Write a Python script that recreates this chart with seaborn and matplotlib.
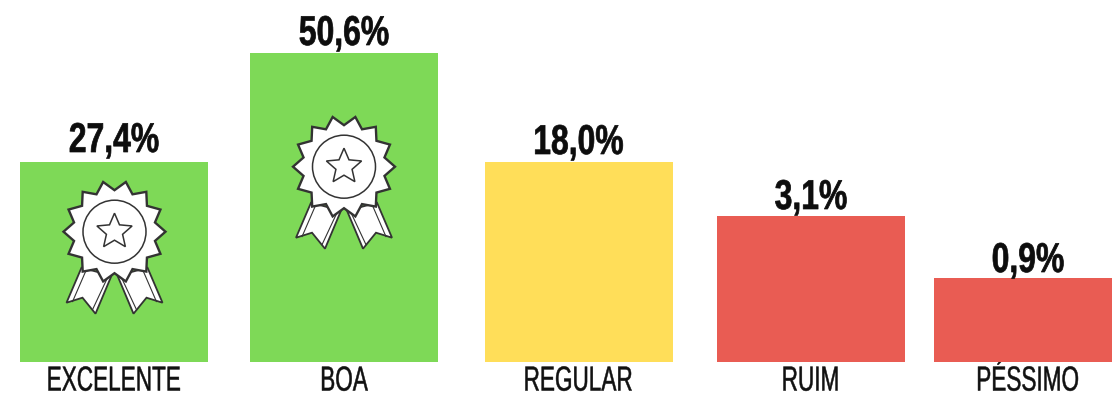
import numpy as np
import pandas as pd
import matplotlib
matplotlib.use("Agg")
import matplotlib.pyplot as plt
import matplotlib.patheffects as pe
from matplotlib.patches import Circle, Polygon
from matplotlib.transforms import Affine2D
import seaborn as sns

# Survey results
categories = ["EXCELENTE", "BOA", "REGULAR", "RUIM", "PÉSSIMO"]
shares = [27.4, 50.6, 18.0, 3.1, 0.9]
value_labels = ["27,4%", "50,6%", "18,0%", "3,1%", "0,9%"]

# Layout in canvas pixels
WIDTH, HEIGHT = 1112, 400
BASELINE = 361.5
bar_centers = [114, 344, 578.5, 811, 1028]
BAR_WIDTH = 188
colors = ["#7ED957", "#7ED957", "#FFDE59", "#E95C53", "#E95C53"]
label_gaps = [9.5, 7.5, 8, 6.5, 6]

# The axis is deliberately non-linear: small shares get a stretched range,
# so the low bars stay readable. Knots map a share to its height in pixels.
scale_shares = [0, 0.9, 3.1, 18.0, 27.4, 50.6, 60.0]
scale_heights = [0, 83.5, 146, 199.5, 200, 309, 361.5]


def to_height(v):
    return np.interp(v, scale_shares, scale_heights)


def to_share(h):
    return np.interp(h, scale_heights, scale_shares)


class CondensedText(pe.AbstractPathEffect):
    """Squeeze centred text horizontally to imitate a condensed typeface."""

    def __init__(self, factor, stroke=0.0):
        super().__init__()
        self.factor = factor
        self.stroke = stroke

    def draw_path(self, renderer, gc, tpath, affine, rgbFace=None):
        width = tpath.get_extents().x1
        squeeze = Affine2D().scale(self.factor, 1).translate(width * (1 - self.factor) / 2, 0)
        gc_text = renderer.new_gc()
        gc_text.copy_properties(gc)
        if self.stroke:
            gc_text.set_foreground(rgbFace[:3])
            gc_text.set_linewidth(self.stroke)
        renderer.draw_path(gc_text, tpath, squeeze + affine, rgbFace)
        gc_text.restore()


def draw_medal(ax, cx, cy):
    """Rosette award icon, sized in pixels around (cx, cy)."""
    place = Affine2D().scale(1, -1).translate(cx, HEIGHT - cy)
    ink = "#333333"
    style = dict(transform=place, edgecolor=ink, facecolor="white", joinstyle="miter", clip_on=False)

    for side in (-1, 1):
        ribbon = [(-33, 36), (-48, 71), (-32, 66), (-19, 82), (-3, 44)]
        outer_stripe = [(-29, 40), (-42, 70)]
        inner_stripe = [(-7, 46), (-22, 78)]
        ax.add_patch(Polygon([(side * x, y) for x, y in ribbon], closed=True, linewidth=1.3, zorder=4, **style))
        for line in (outer_stripe, inner_stripe):
            xs = [side * p[0] for p in line]
            ys = [p[1] for p in line]
            ax.plot(xs, ys, color=ink, linewidth=0.8, transform=place, zorder=4, scalex=False, scaley=False)

    n_tips = 14
    angles = np.deg2rad(np.arange(2 * n_tips) * 180 / n_tips)
    radii = np.where(np.arange(2 * n_tips) % 2 == 0, 51, 41.5)
    burst = np.column_stack([radii * np.cos(angles), radii * np.sin(angles)])
    ax.add_patch(Polygon(burst, closed=True, linewidth=1.7, zorder=5, **style))
    ax.add_patch(Circle((0, 0), 31.5, linewidth=1.1, zorder=6, **style))

    star_angles = np.deg2rad(-90 + np.arange(10) * 36)
    star_radii = np.where(np.arange(10) % 2 == 0, 18.5, 8.5)
    star = np.column_stack([star_radii * np.cos(star_angles), star_radii * np.sin(star_angles)])
    ax.add_patch(Polygon(star, closed=True, linewidth=1.1, zorder=7, **style))


sns.set_theme(style="white")
plt.rcParams["font.family"] = ["Liberation Sans Narrow", "Liberation Sans", "DejaVu Sans"]

fig = plt.figure(figsize=(WIDTH / 100, HEIGHT / 100), dpi=100)
ax = fig.add_axes([0, (HEIGHT - BASELINE) / HEIGHT, 1, BASELINE / HEIGHT])
ax.set_yscale("function", functions=(to_height, to_share))

data = pd.DataFrame({"center": bar_centers, "share": shares, "category": categories})
sns.barplot(
    data=data, x="center", y="share", hue="category", palette=colors,
    native_scale=True, dodge=False, legend=False, saturation=1,
    width=BAR_WIDTH / (bar_centers[4] - bar_centers[3]), linewidth=0, ax=ax,
)

ax.set_xlim(0, WIDTH)
ax.set_ylim(0, 60)
ax.set_xlabel("")
ax.set_ylabel("")
ax.set_yticks([])
ax.minorticks_off()
ax.set_xticks(bar_centers)
ax.set_xticklabels(categories, fontsize=25, color="#111111")
ax.tick_params(axis="x", length=0, pad=2.2)
ax.tick_params(axis="y", length=0, left=False, which="both")
for tick_label in ax.get_xticklabels():
    tick_label.set_path_effects([CondensedText(0.65, stroke=0.35)])
sns.despine(ax=ax, left=True, bottom=True)

for center, share, text, gap in zip(bar_centers, shares, value_labels, label_gaps):
    ax.annotate(
        text, (center, share), xytext=(0, gap * 0.72), textcoords="offset points",
        ha="center", va="baseline", fontsize=30, fontweight="bold", color="#0d0d0d",
        path_effects=[CondensedText(0.765, stroke=0.5)],
    )

draw_medal(ax, 114.5, 231.7)
draw_medal(ax, 344, 166.7)

fig.savefig("out.png", dpi=100)
